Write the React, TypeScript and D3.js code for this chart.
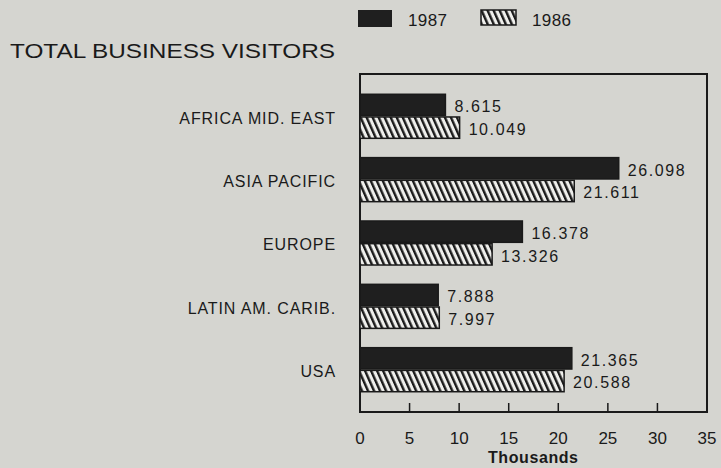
import React from "react";
import * as d3 from "d3";

const categories = ["AFRICA MID. EAST", "ASIA PACIFIC", "EUROPE", "LATIN AM. CARIB.", "USA"];
const values1987 = [8.615, 26.098, 16.378, 7.888, 21.365];
const values1986 = [10.049, 21.611, 13.326, 7.997, 20.588];
const labels1987 = ["8.615", "26.098", "16.378", "7.888", "21.365"];
const labels1986 = ["10.049", "21.611", "13.326", "7.997", "20.588"];
const seriesNames = ["1987", "1986"];
const xTicks = [0, 5, 10, 15, 20, 25, 30, 35];

const W = 721;
const H = 468;
const BG = "#d5d5d0";
const DARK = "#1f1f1f";
const FONT = "'Liberation Sans', Arial, sans-serif";

export default function App() {
  const left = 360, right = 707, top = 74, bottom = 412;
  const x = d3.scaleLinear().domain([0, 35]).range([left, right]);
  const y = d3.scaleBand<string>().domain(categories).range([top, bottom]).paddingInner(0.305).paddingOuter(0.32);
  const ys = d3.scaleBand<string>().domain(seriesNames).range([0, y.bandwidth()]).paddingInner(0.06);

  const rows = categories.map((c, i) => ({
    c,
    bars: [
      { s: "1987", v: values1987[i], label: labels1987[i] },
      { s: "1986", v: values1986[i], label: labels1986[i] },
    ],
  }));

  return (
    <svg width={W} height={H} style={{ position: "absolute", left: 0, top: 0, display: "block" }} fontFamily={FONT}>
      <defs>
        <pattern id="hatch" width={5.5} height={10} patternUnits="userSpaceOnUse" patternTransform="rotate(-24)">
          <rect width={5.5} height={10} fill="#efefec" />
          <rect x={0} y={0} width={2.4} height={10} fill="#1a1a1a" />
        </pattern>
      </defs>
      <rect width={W} height={H} fill={BG} />

      {/* Title */}
      <text x={10} y={58} fontSize={21} fill="#1a1a1a" textLength={325} lengthAdjust="spacingAndGlyphs">
        TOTAL BUSINESS VISITORS
      </text>

      {/* Legend */}
      <rect x={358} y={10} width={34} height={17} fill={DARK} />
      <text x={408} y={26} fontSize={17} fill="#1a1a1a" textLength={39}>1987</text>
      <rect x={481} y={10} width={35} height={15} fill="url(#hatch)" stroke="#1a1a1a" strokeWidth={1.5} />
      <text x={532} y={26} fontSize={17} fill="#1a1a1a" textLength={39}>1986</text>

      {/* Frame */}
      <rect x={left} y={top} width={right - left} height={bottom - top} fill="none" stroke="#1a1a1a" strokeWidth={2} />

      {/* Bars */}
      {rows.map((r) => (
        <g key={r.c}>
          <text
            x={336}
            y={(y(r.c) as number) + y.bandwidth() / 2 + 3}
            fontSize={16}
            letterSpacing={0.9}
            textAnchor="end"
            dominantBaseline="middle"
            fill="#1a1a1a"
          >
            {r.c}
          </text>
          {r.bars.map((b) => {
            const by = (y(r.c) as number) + (ys(b.s) as number);
            return (
              <g key={b.s}>
                <rect
                  x={x(0)}
                  y={by}
                  width={x(b.v) - x(0)}
                  height={ys.bandwidth()}
                  fill={b.s === "1987" ? DARK : "url(#hatch)"}
                  stroke="#1a1a1a"
                  strokeWidth={1.5}
                />
                <text
                  x={x(b.v) + 9}
                  y={by + ys.bandwidth() / 2 + 3}
                  fontSize={16}
                  dominantBaseline="middle"
                  fill="#1a1a1a"
                  letterSpacing={1.6}
                >
                  {b.label}
                </text>
              </g>
            );
          })}
        </g>
      ))}

      {/* Ticks */}
      {xTicks.slice(1, -1).map((t) => (
        <line key={t} x1={x(t)} x2={x(t)} y1={bottom} y2={bottom - 9} stroke="#1a1a1a" strokeWidth={1.5} />
      ))}
      {xTicks.map((t) => (
        <text key={t} x={x(t)} y={440} fontSize={17} textAnchor="middle" dominantBaseline="middle" fill="#1a1a1a">
          {t}
        </text>
      ))}
      <text x={533} y={459} fontSize={16} textAnchor="middle" dominantBaseline="middle" fill="#1a1a1a" textLength={90} fontWeight="bold">
        Thousands
      </text>
    </svg>
  );
}
